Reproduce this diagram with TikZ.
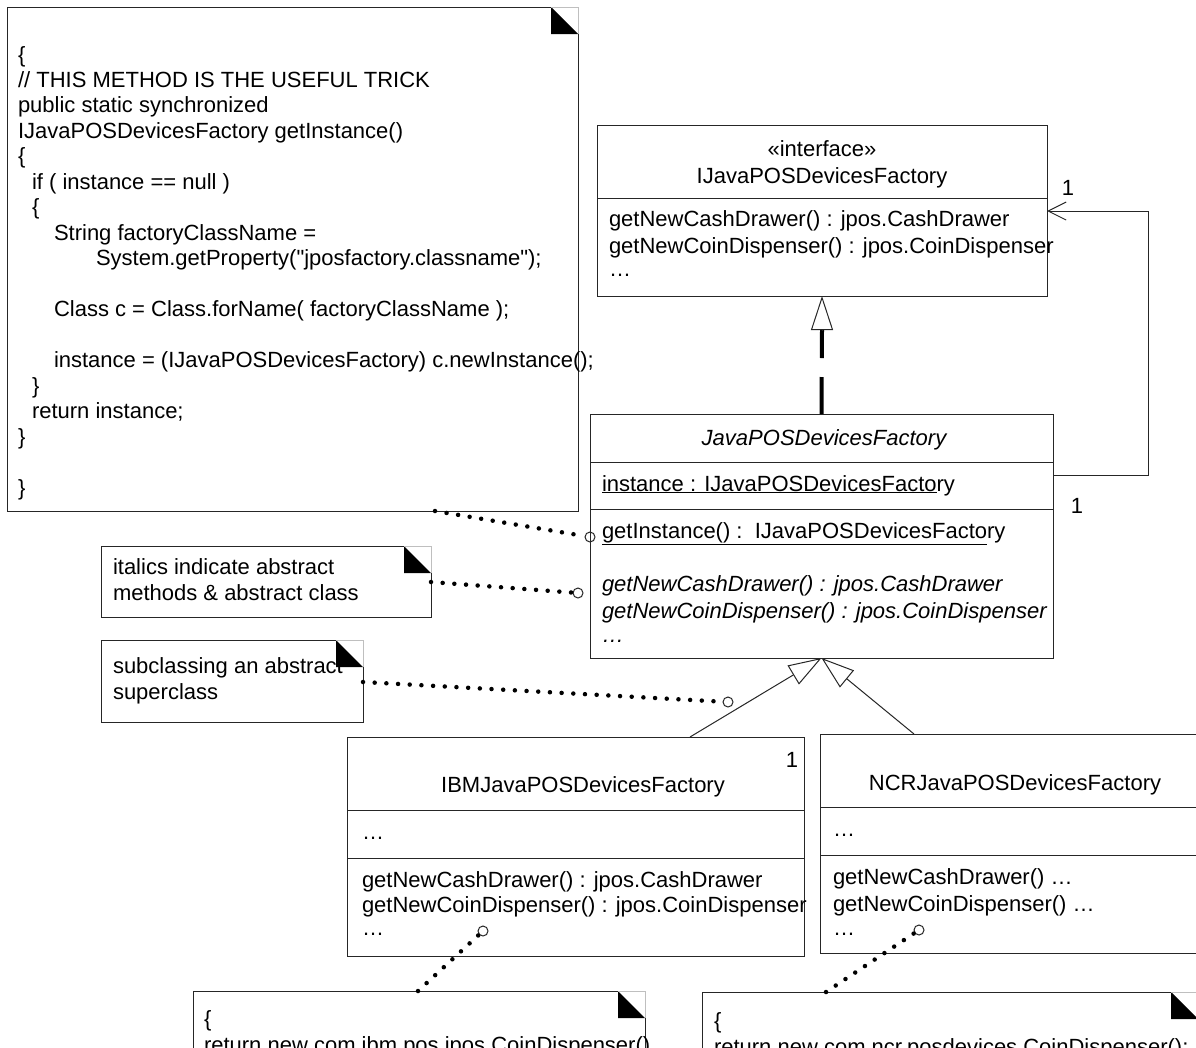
\documentclass[tikz,border=0pt]{standalone}
\usepackage{fontspec}
\setmainfont{Liberation Sans}[Ligatures=TeXOff]
\usetikzlibrary{arrows.meta,calc}
\newcommand\umlfont{\fontsize{22}{25.5}\selectfont}
\tikzset{
 boxn/.style={draw=black!85, line width=1pt, inner sep=0pt, outer sep=0pt, anchor=north west},
 slot/.style={draw=black!85, line width=1pt},
 tx/.style={anchor=base west, inner sep=0pt, outer sep=0pt},
 txc/.style={anchor=base, inner sep=0pt, outer sep=0pt},
 lbl/.style={anchor=center, inner sep=0pt},
 notearea/.style={inner sep=0pt, outer sep=0pt, anchor=north west},
 noteline/.style={draw=black!85, line width=1pt},
 foldline/.style={draw=black!25, line width=0.8pt},
 dotl/.style={line width=4.5pt, line cap=round, dash pattern=on 0pt off 11.7pt},
 pin/.style={circle, draw=black!85, line width=1pt, minimum size=10pt, inner sep=0pt},
 gen/.style={line width=1pt, draw=black!85, -{Triangle[open, length=33pt, width=22pt]}},
 realline/.style={line width=4pt, dash pattern=on 37pt off 19pt},
 realtip/.style={line width=1pt, draw=black!85, -{Triangle[open, length=34pt, width=22pt]}},
 assoc/.style={line width=1pt, draw=black!85, -{Straight Barb[length=18pt, width=18pt]}},
}
\newcommand\drawnote[1]{%
 \fill ($(#1.north east)+(-27,0)$) -- ($(#1.north east)+(-27,27)$) -- ($(#1.north east)+(0,27)$) -- cycle;
 \draw[foldline] ($(#1.north east)+(-27,0)$) -- (#1.north east) -- ($(#1.north east)+(0,27)$);
 \draw[noteline] ($(#1.north east)+(-27,0)$) -- (#1.north west) -- (#1.south west) -- (#1.south east) -- ($(#1.north east)+(0,27)$);
}
\begin{document}
\begin{tikzpicture}[x=1pt,y=-1pt,font=\umlfont]
\fill[white] (0,0) rectangle (1196,1047);
\useasboundingbox (0,0) rectangle (1196,1047);

% ---------- big code note
\node[notearea, minimum width=571pt, minimum height=504pt] (bignote) at (7,7) {};
\drawnote{bignote}
\node[tx] (b0) at (18,62.5) {\{};
\node[tx] (b1) at (18,87) {// THIS METHOD IS THE USEFUL TRICK};
\node[tx] (b2) at (18,112.5) {public static synchronized};
\node[tx] (b3) at (18,138) {IJavaPOSDevicesFactory getInstance()};
\node[tx] (b4) at (18,163.5) {\{};
\node[tx] (b5) at (32,189) {if ( instance == null )};
\node[tx] (b6) at (32,214.5) {\{};
\node[tx] (b7) at (54,240) {String factoryClassName =};
\node[tx] (b8) at (96,265.5) {System.getProperty("jposfactory.classname");};
\node[tx] (b10) at (54,316.5) {Class c = Class.forName( factoryClassName );};
\node[tx] (b12) at (54,367.5) {instance = (IJavaPOSDevicesFactory) c.newInstance();};
\node[tx] (b13) at (32,393) {\}};
\node[tx] (b14) at (32,418.5) {return instance;};
\node[tx] (b15) at (18,444) {\}};
\node[tx] (b17) at (18,495) {\}};

% ---------- small notes
\node[notearea, minimum width=330pt, minimum height=71pt] (note1) at (101,546) {};
\drawnote{note1}
\node[tx] (n1a) at (113,574) {italics indicate abstract};
\node[tx] (n1b) at (113,600) {methods \& abstract class};

\node[notearea, minimum width=262pt, minimum height=82pt] (note2) at (101,640) {};
\drawnote{note2}
\node[tx] (n2a) at (113,673) {subclassing an abstract};
\node[tx] (n2b) at (113,699) {superclass};

\node[notearea, minimum width=452pt, minimum height=80pt] (ibmnote) at (193,991) {};
\drawnote{ibmnote}
\node[tx] (in1) at (204,1026) {\{};
\node[tx] (in2) at (204,1052) {return new com.ibm.pos.jpos.CoinDispenser()};

\node[notearea, minimum width=496pt, minimum height=80pt] (ncrnote) at (702,992) {};
\drawnote{ncrnote}
\node[tx] (nn1) at (714,1028) {\{};
\node[tx] (nn2) at (714,1054) {return new com.ncr.posdevices.CoinDispenser();};

% ---------- interface
\node[boxn, minimum width=450pt, minimum height=171pt] (iface) at (597,125) {};
\draw[slot] (iface.west |- 0,198) -- (iface.east |- 0,198);
\node[txc] (ifst) at (822,156) {«interface»};
\node[txc] (ifnm) at (822,183) {IJavaPOSDevicesFactory};
\node[tx] (ifm1) at (609,226) {getNewCashDrawer() : jpos.CashDrawer};
\node[tx] (ifm2) at (609,253) {getNewCoinDispenser() : jpos.CoinDispenser};
\node[tx] (ifm3) at (609,276) {…};

% ---------- abstract class
\node[boxn, minimum width=463pt, minimum height=244pt] (abs) at (590,414) {};
\draw[slot] (abs.west |- 0,462) -- (abs.east |- 0,462);
\draw[slot] (abs.west |- 0,509) -- (abs.east |- 0,509);
\node[txc] (absnm) at (824,445) {\itshape JavaPOSDevicesFactory};
\node[tx] (absat) at (602,491) {\underline{instance : IJavaPOSDevicesFacto}ry};
\node[tx] (absop) at (602,538) {\underline{getInstance() :\ \ IJavaPOSDevicesFacto}ry};
\node[tx] (absm1) at (602,591) {\itshape getNewCashDrawer() : jpos.CashDrawer};
\node[tx] (absm2) at (602,618) {\itshape getNewCoinDispenser() : jpos.CoinDispenser};
\node[tx] (absm3) at (602,642) {\itshape …};

% ---------- IBM
\node[boxn, minimum width=457pt, minimum height=219pt] (ibm) at (347,737) {};
\draw[slot] (ibm.west |- 0,810) -- (ibm.east |- 0,810);
\draw[slot] (ibm.west |- 0,858) -- (ibm.east |- 0,858);
\node[txc] (ibmnm) at (583,792) {IBMJavaPOSDevicesFactory};
\node[tx] (ibma) at (362,839) {…};
\node[tx] (ibm1) at (362,887) {getNewCashDrawer() : jpos.CashDrawer};
\node[tx] (ibm2) at (362,912) {getNewCoinDispenser() : jpos.CoinDispenser};
\node[tx] (ibm3) at (362,935) {…};

% ---------- NCR
\node[boxn, minimum width=380pt, minimum height=219pt] (ncr) at (820,734) {};
\draw[slot] (ncr.west |- 0,807) -- (ncr.east |- 0,807);
\draw[slot] (ncr.west |- 0,855) -- (ncr.east |- 0,855);
\node[txc] (ncrnm) at (1015,790) {NCRJavaPOSDevicesFactory};
\node[tx] (ncra) at (833,836) {…};
\node[tx] (ncr1) at (833,884) {getNewCashDrawer() …};
\node[tx] (ncr2) at (833,911) {getNewCoinDispenser() …};
\node[tx] (ncr3) at (833,935) {…};

% ---------- multiplicities
\node[lbl] (m1) at (1068,188) {1};
\node[lbl] (m2) at (1077,506) {1};
\node[lbl] (m3) at (792,760) {1};

% ---------- pins
\node[pin] (c1) at (590,537) {};
\node[pin] (c2) at (578,593) {};
\node[pin] (c3) at (728,702) {};
\node[pin] (c4) at (483,931) {};
\node[pin] (c5) at (919,930) {};

% ---------- connectors
\coordinate (ifb) at ($(iface.south)+(0,34)$);
\draw[realline] (abs.north) -- (ifb);
\draw[realtip] (ifb) -- (iface.south);

\draw[assoc] ($(abs.north east)+(0,61)$) -| ($(iface.north east)+(101,86)$) -- ($(iface.north east)+(0,86)$);

\draw[gen] ($(ibm.north west)+(343,0)$) -- (abs.south);
\draw[gen] ($(ncr.north west)+(94,0)$) -- (abs.south);

\draw[dotl] ($(bignote.south west)+(428,0)$) -- (c1);
\draw[dotl] ($(note1.north east)+(0,36)$) -- (c2);
\draw[dotl] ($(note2.north east)+(0,42)$) -- (c3);
\draw[dotl] ($(ibmnote.north west)+(225,0)$) -- (c4);
\draw[dotl] ($(ncrnote.north west)+(124,0)$) -- (c5);
\end{tikzpicture}
\end{document}
